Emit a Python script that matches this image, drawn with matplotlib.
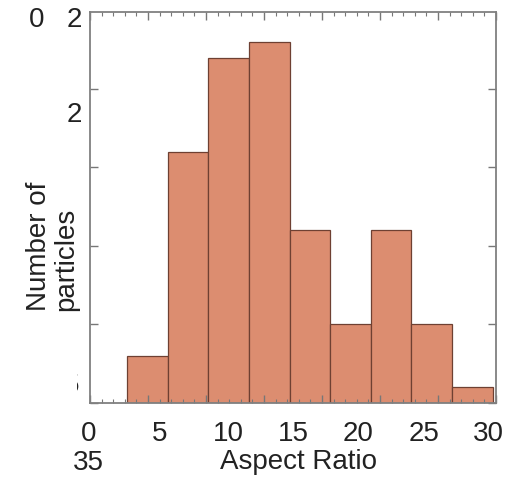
import matplotlib
matplotlib.use('Agg')
import matplotlib.pyplot as plt
from matplotlib.ticker import MultipleLocator
from matplotlib.transforms import Bbox

plt.rcParams['font.family'] = ['Liberation Sans', 'DejaVu Sans']

# histogram (axis of the scan runs 0..35)
bin_edges = [3.2, 6.7, 10.2, 13.7, 17.2, 20.7, 24.2, 27.7, 31.2, 34.7]
counts = [3, 16, 22, 23, 11, 5, 11, 5, 1]

# overlaid labels
x_labels = ['0', '5', '10', '15', '20', '25', '30']
x_label_px = [89, 160, 228, 293, 358, 424, 488]
x_title = 'Aspect Ratio'
y_title = 'Number of\nparticles'

W, H = 509, 478
fig = plt.figure(figsize=(W / 100, H / 100), dpi=100)
ax = fig.add_axes([90 / W, 1 - 403 / H, 406 / W, 391 / H])

widths = [b - a for a, b in zip(bin_edges[:-1], bin_edges[1:])]
ax.bar(bin_edges[:-1], counts, width=widths, align='edge',
       color='#DC8D70', edgecolor='#6e4032', linewidth=0.9)

ax.set_xlim(0, 35)
ax.set_ylim(0, 24.9)
ax.xaxis.set_major_locator(MultipleLocator(5))
ax.xaxis.set_minor_locator(MultipleLocator(1))
ax.yaxis.set_major_locator(MultipleLocator(5))
ax.tick_params(which='both', direction='in', top=True, right=True,
               labelbottom=False, labelleft=False, color='#777777')
ax.tick_params(which='major', length=6, width=1)
ax.tick_params(which='minor', length=3, width=0.8)
for s in ax.spines.values():
    s.set_color('#808080')
    s.set_linewidth(1.3)

fs = 20
tc = '#222222'
for lab, px in zip(x_labels, x_label_px):
    fig.text(px / W, 1 - 434 / H, lab, ha='center', va='center', fontsize=fs, color=tc)
fig.text(299 / W, 1 - 462 / H, x_title, ha='center', va='center', fontsize=fs, color=tc)
fig.text(88 / W, 1 - 463 / H, '35', ha='center', va='center', fontsize=fs, color=tc)

# leftover fragments of the scan's y labels
fig.text(37 / W, 1 - 20 / H, '0', ha='center', va='center', fontsize=fs, color=tc)
fig.text(74 / W, 1 - 20 / H, '2', ha='center', va='center', fontsize=fs, color=tc)
fig.text(74 / W, 1 - 115 / H, '2', ha='center', va='center', fontsize=fs, color=tc)
t5 = fig.text(72 / W, 1 - 386 / H, '5', ha='center', va='center', fontsize=fs, color=tc)
t5.set_clip_box(Bbox([[77, H - 400], [90, H - 370]]))
t5.set_clip_on(True)

fig.text(53 / W, 1 - 246 / H, y_title, rotation=90, ha='center', va='center',
         multialignment='left', fontsize=fs, color=tc, linespacing=1.05)

fig.savefig('out.png', dpi=100)
